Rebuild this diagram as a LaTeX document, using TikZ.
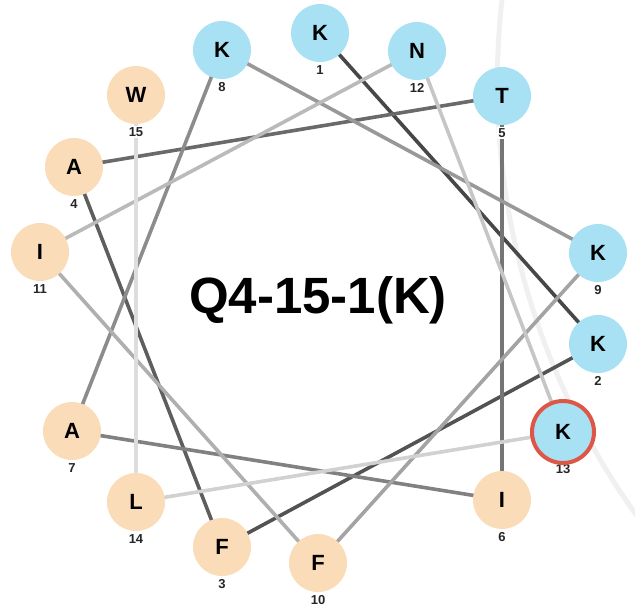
\documentclass[tikz,border=0pt]{standalone}
\usepackage{fontspec}
\setmainfont{Liberation Sans}
\definecolor{peach}{RGB}{250,220,184}
\definecolor{sky}{RGB}{168,225,244}
\definecolor{ringred}{RGB}{222,86,70}
\definecolor{wmark}{RGB}{240,240,240}
\pgfdeclarelayer{bg}
\pgfsetlayers{bg,main}
\tikzset{
  res/.style={circle, minimum size=58pt, inner sep=0pt, font=\fontsize{22}{22}\selectfont\bfseries},
  hphob/.style={res, fill=peach},
  hphil/.style={res, fill=sky},
  num/.style={inner sep=1pt, fill=white, font=\fontsize{13}{13}\selectfont\bfseries, text=black!85},
  conn/.style={line width=3.6pt},
  titlefont/.style={font=\fontsize{51}{51}\selectfont\bfseries}
}
\begin{document}
\begin{tikzpicture}[x=1pt,y=-1pt]
\useasboundingbox (0,0) rectangle (635,606);
% faint watermark arc
\begin{pgfonlayer}{bg}
\draw[wmark, line width=5pt] (502,0) arc[start angle=186.4, end angle=143, radius=742];
\end{pgfonlayer}
% residue positions and numbers
\foreach \i/\x/\y in {1/320/33,2/598/344,3/222/547,4/74/167,5/502/96,6/502/500,7/72/431,8/222/50,9/598/253,10/318/563,11/40/252,12/417/51,13/563/432,14/136/502,15/136/95}{
  \coordinate (p\i) at (\x,\y);
  \node[num] (n\i) at (\x,\y+37) {\i};
}
% residues
\node[hphil] (r1) at (p1) {K};
\node[hphil] (r2) at (p2) {K};
\node[hphob] (r3) at (p3) {F};
\node[hphob] (r4) at (p4) {A};
\node[hphil] (r5) at (p5) {T};
\node[hphob] (r6) at (p6) {I};
\node[hphob] (r7) at (p7) {A};
\node[hphil] (r8) at (p8) {K};
\node[hphil] (r9) at (p9) {K};
\node[hphob] (r10) at (p10) {F};
\node[hphob] (r11) at (p11) {I};
\node[hphil] (r12) at (p12) {N};
\node[hphil, draw=ringred, line width=4pt, minimum size=62pt] (r13) at (p13) {K};
\node[hphob] (r14) at (p14) {L};
\node[hphob] (r15) at (p15) {W};
% connectors, behind the residues, darkest first
\begin{pgfonlayer}{bg}
\foreach \a/\b [count=\k] in {1/2,2/3,3/4,4/5,5/6,6/7,7/8,8/9,9/10,10/11,11/12,12/13,13/14,14/15}{
  \pgfmathsetmacro\shade{72-(\k-1)*4.5}
  \draw[conn, draw=black!\shade] (r\a.center) -- (r\b.center);
}
\end{pgfonlayer}
% title
\node[titlefont] (title) at (318,300) {Q4-15-1(K)};
\end{tikzpicture}
\end{document}
